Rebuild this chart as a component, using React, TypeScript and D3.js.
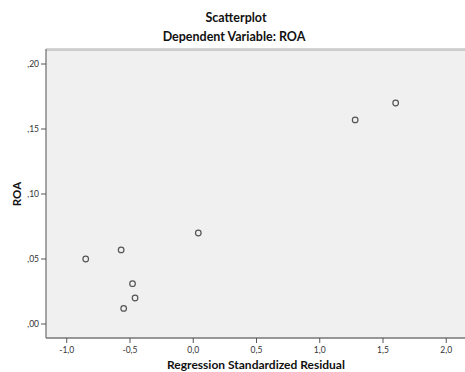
import { useMemo } from "react";
import * as d3 from "d3";

// ── Data ──────────────────────────────────────────────────────
const residuals = [0.04, -0.57, -0.85, -0.48, -0.46, -0.55, 1.28, 1.6];
const roa       = [0.070, 0.057, 0.050, 0.031, 0.020, 0.012, 0.157, 0.170];
const xTicks    = [-1.0, -0.5, 0.0, 0.5, 1.0, 1.5, 2.0];
const yTicks    = [0.0, 0.05, 0.10, 0.15, 0.20];

const W = 465, H = 372;
const M = { left: 46, top: 49, right: 470, bottom: 338 };
const FONT = "Lato, 'Open Sans', sans-serif";

// SPSS style decimal comma, no leading zero on the y axis
const fmtX = (v: number) => v.toFixed(1).replace(".", ",");
const fmtY = (v: number) => v.toFixed(2).replace(/^0/, "").replace(".", ",");

export default function App() {
  const x = useMemo(
    () => d3.scaleLinear().domain([-1.164, 2.2]).range([M.left, M.left + (2.2 + 1.164) * 126.5]),
    []
  );
  const y = useMemo(
    () => d3.scaleLinear().domain([0, 0.2]).range([324, 64]),
    []
  );
  const points = d3.zip(residuals, roa) as [number, number][];

  return (
    <svg width={W} height={H} style={{ position: "absolute", left: 0, top: 0, background: "#fff" }}
      fontFamily={FONT}>
      {/* titles */}
      <text x={236} y={22} textAnchor="middle" fontSize={12.5} fontWeight={700} fill="#111">Scatterplot</text>
      <text x={234} y={41} textAnchor="middle" fontSize={12.5} fontWeight={700} fill="#111">
        Dependent Variable: ROA
      </text>

      {/* plot area */}
      <rect x={M.left} y={M.top} width={M.right - M.left} height={M.bottom - M.top} fill="#f0f0f0" />
      <line x1={M.left} x2={W} y1={M.top} y2={M.top} stroke="#aaa" strokeWidth={1} />
      <line x1={M.left} x2={W} y1={M.top + 1.5} y2={M.top + 1.5} stroke="#ccc" strokeWidth={1} />
      <line x1={M.left} x2={M.left} y1={M.top} y2={M.bottom} stroke="#777" strokeWidth={1.3} />
      <line x1={M.left} x2={W} y1={M.bottom} y2={M.bottom} stroke="#777" strokeWidth={1.3} />

      {/* y axis */}
      {yTicks.map((t) => (
        <g key={t} transform={`translate(0,${y(t)})`}>
          <line x1={M.left - 5} x2={M.left} stroke="#555" />
          <text x={M.left - 7} dy="0.33em" textAnchor="end" fontSize={8.5} fill="#333">{fmtY(t)}</text>
        </g>
      ))}
      <text transform={`translate(17,${y(0.1)}) rotate(-90)`} textAnchor="middle" dy="0.35em"
        fontSize={11.5} fontWeight={700} fill="#111">ROA</text>

      {/* x axis */}
      {xTicks.map((t) => (
        <g key={t} transform={`translate(${x(t)},0)`}>
          <line y1={M.bottom} y2={M.bottom + 5} stroke="#555" />
          <text y={M.bottom + 15} textAnchor="middle" fontSize={8.5} fill="#333">{fmtX(t)}</text>
        </g>
      ))}
      <text x={256} y={369} textAnchor="middle" fontSize={12} fontWeight={700} fill="#111">
        Regression Standardized Residual
      </text>

      {/* points */}
      {points.map(([r, v], i) => (
        <circle key={i} cx={x(r)} cy={y(v)} r={2.8} fill="none" stroke="#555" strokeWidth={1.2} />
      ))}
    </svg>
  );
}
